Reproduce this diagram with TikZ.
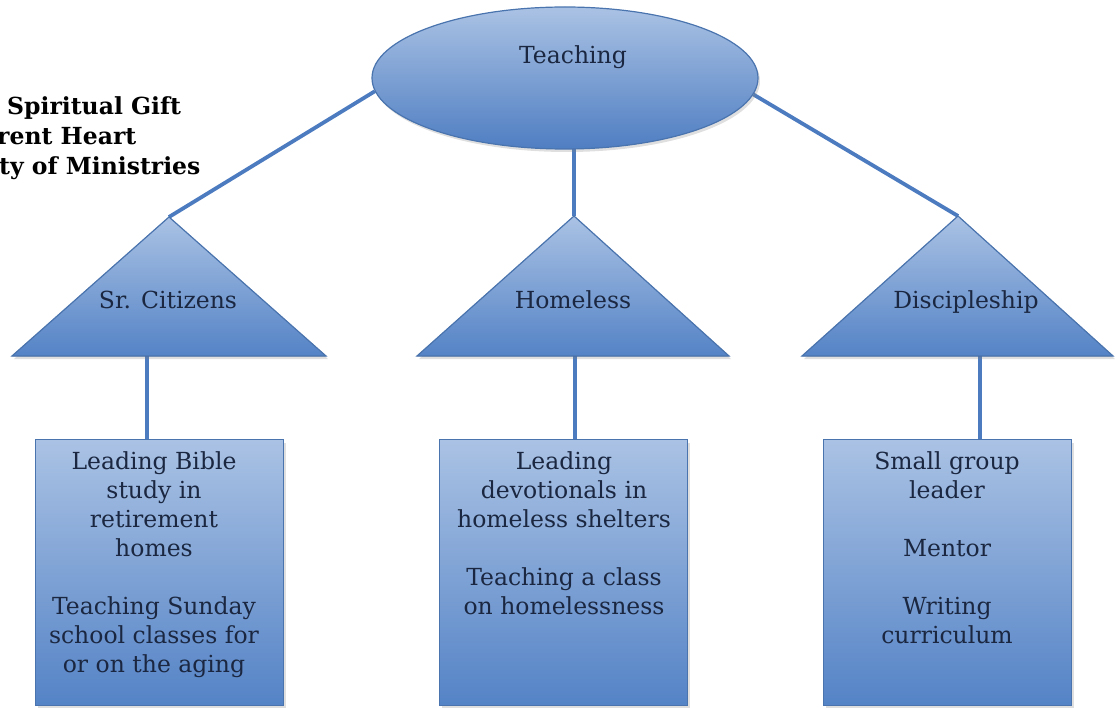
\documentclass[tikz,border=0pt]{standalone}
\usepackage{fontspec}
\setmainfont{DejaVu Serif}
\usetikzlibrary{shapes.geometric,shadows,backgrounds,calc}
\definecolor{lightblue}{HTML}{AAC2E4}
\definecolor{darkblue}{HTML}{5483C6}
\definecolor{ellbottom}{HTML}{4F7EC2}
\definecolor{edgeblue}{HTML}{4A74AE}
\definecolor{connblue}{HTML}{4C7BC0}
\definecolor{navy}{HTML}{1B2740}
\begin{document}
\begin{tikzpicture}[x=1pt,y=-1pt,
  shapefill/.style={top color=lightblue,bottom color=darkblue,draw=edgeblue,line width=1.2pt,
    drop shadow={shadow xshift=2pt,shadow yshift=-3pt,opacity=0.25}},
  ell/.style={ellipse,shapefill,bottom color=ellbottom,minimum width=386pt,minimum height=142pt,inner sep=0pt},
  boxs/.style={rectangle,shapefill,minimum width=248pt,minimum height=266pt,inner sep=0pt,anchor=north west},
  txt/.style={text=navy,font=\fontsize{23.5}{29}\selectfont,inner sep=0pt},
  boxtxt/.style={txt,align=center,anchor=north},
  title/.style={text=black,font=\bfseries\fontsize{23.5}{30}\selectfont,inner sep=0pt,anchor=base west},
  conn/.style={draw=connblue,line width=3.8pt}]
\useasboundingbox (0,0) rectangle (1115,708);

% title text (cut at the left edge, as in the reference)
\begin{scope}
\clip (0,0) rectangle (1115,708);
\node[title] (ti1) at (7,115) {Spiritual Gift};
\node[title] (ti2) at (-3,145) {rent Heart};
\node[title] (ti3) at (-1,175) {ty of Ministries};
\end{scope}

% top ellipse
\node[ell] (teach) at (565,78) {};
\node[txt] (teachlbl) at (573,57) {Teaching};

% triangle corners
\coordinate (t1a) at (169,217); \coordinate (t1l) at (12,356); \coordinate (t1r) at (326,356);
\coordinate (t2a) at (574,216); \coordinate (t2l) at (417,356); \coordinate (t2r) at (729,356);
\coordinate (t3a) at (958,216); \coordinate (t3l) at (802,356); \coordinate (t3r) at (1113,356);
\coordinate (t1b) at (147,356); \coordinate (t2b) at (575,356); \coordinate (t3b) at (980,356);

\filldraw[shapefill] (t1a) -- (t1r) -- (t1l) -- cycle;
\filldraw[shapefill] (t2a) -- (t2r) -- (t2l) -- cycle;
\filldraw[shapefill] (t3a) -- (t3r) -- (t3l) -- cycle;
\node[txt] (t1lbl) at (168,300) {Sr. Citizens};
\node[txt] (t2lbl) at (573,300) {Homeless};
\node[txt] (t3lbl) at (966,302) {Discipleship};

% boxes
\node[boxs] (b1) at (35,439) {};
\node[boxs] (b2) at (439,439) {};
\node[boxs] (b3) at (823,439) {};

\node[boxtxt] (b1t) at (154,451) {Leading Bible\\study in\\retirement\\homes\\[29pt]Teaching Sunday\\school classes for\\or on the aging};
\node[boxtxt] (b2t) at (564,451) {Leading\\devotionals in\\homeless shelters\\[29pt]Teaching a class\\on homelessness};
\node[boxtxt] (b3t) at (947,451) {Small group\\leader\\[29pt]Mentor\\[29pt]Writing\\curriculum};

% connectors
\begin{scope}[on background layer]
\draw[conn] (teach.184.5) -- (t1a);
\draw[conn] (teach.center -| t2a) -- (t2a);
\draw[conn] (teach.355.5) -- (t3a);
\draw[conn] (t1b) -- (b1.north -| t1b);
\draw[conn] (t2b) -- (b2.north -| t2b);
\draw[conn] (t3b) -- (b3.north -| t3b);
\end{scope}
\end{tikzpicture}
\end{document}
